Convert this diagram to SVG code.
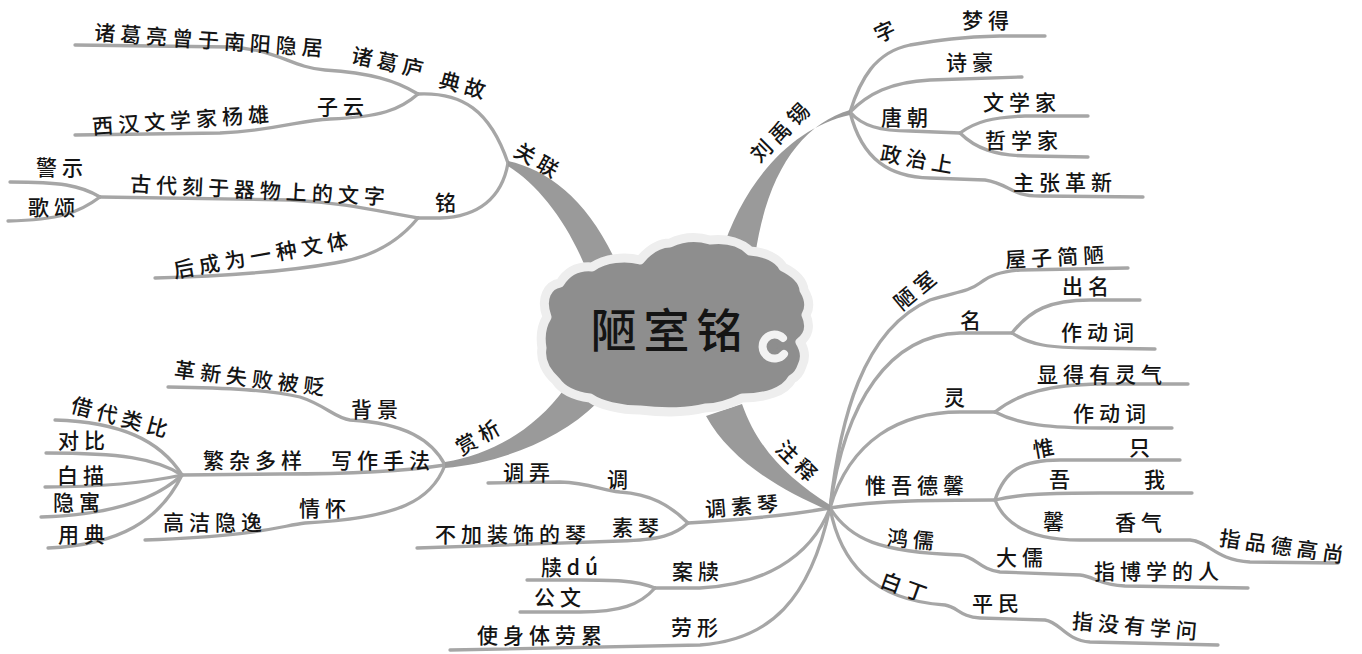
<svg xmlns="http://www.w3.org/2000/svg" width="1362" height="654" viewBox="0 0 1362 654">
<style>
.bg{fill:#ffffff}
.ln{fill:none;stroke:#a6a6a6;stroke-width:3.3;stroke-linecap:round;stroke-linejoin:round}
.th{fill:#9a9a9a;stroke:none}
.t{font-family:"Noto Sans CJK SC","Noto Sans CJK TC",sans-serif;font-size:21px;font-weight:500;letter-spacing:5px;fill:#141414;text-anchor:middle}
.title{font-family:"Noto Sans CJK SC",sans-serif;font-size:46px;font-weight:500;letter-spacing:7px;fill:#141414;text-anchor:middle}
</style>
<rect class="bg" x="0" y="0" width="1362" height="654"/>

<g id="connectors">
  <!-- 关联 -->
  <path class="ln" d="M75 45 L230 47 C280 50 290 67 325 70 C370 73 395 80 418 94"/>
  <path class="ln" d="M418 94 C400 110 380 117 330 119 C300 120 280 130 220 133 L75 135"/>
  <path class="ln" d="M418 94 C462 92 490 110 508 163"/>
  <path class="ln" d="M508 163 C502 198 478 217 440 218 L418 218"/>
  <path class="ln" d="M418 218 C380 212 350 203 290 200 L100 197"/>
  <path class="ln" d="M100 197 C80 185 60 182 10 182"/>
  <path class="ln" d="M100 197 C80 212 60 220 8 221"/>
  <path class="ln" d="M418 218 C400 240 375 257 335 263 C295 270 230 276 155 278"/>
  <!-- 刘禹锡 -->
  <path class="ln" d="M850 112 C860 80 875 52 910 45 C940 40 960 37 1000 36 L1045 36"/>
  <path class="ln" d="M850 112 C868 94 890 82 930 80 L1022 77"/>
  <path class="ln" d="M850 112 C862 126 880 131 910 131 L960 133"/>
  <path class="ln" d="M960 133 C975 122 992 117 1025 116 L1088 116"/>
  <path class="ln" d="M960 133 C975 148 995 156 1030 156 L1088 157"/>
  <path class="ln" d="M850 112 C862 160 890 177 930 178 L985 180 C1010 184 1010 196 1040 196 L1143 197"/>
  <!-- 注释 -->
  <path class="ln" d="M830 508 C840 420 862 330 930 300 C955 292 968 292 980 283 C990 275 1000 272 1020 270 L1128 268"/>
  <path class="ln" d="M830 508 C845 400 890 335 960 333 L1012 333"/>
  <path class="ln" d="M1012 333 C1030 310 1050 300 1090 300 L1140 300"/>
  <path class="ln" d="M1012 333 C1030 345 1050 348 1090 348 L1155 349"/>
  <path class="ln" d="M830 508 C850 440 900 412 960 412 L995 412"/>
  <path class="ln" d="M995 412 C1020 392 1050 385 1100 384 L1188 384"/>
  <path class="ln" d="M995 412 C1020 425 1050 428 1100 428 L1172 428"/>
  <path class="ln" d="M830 508 C880 500 940 500 995 500"/>
  <path class="ln" d="M995 500 C1005 470 1022 460 1060 460 L1180 460"/>
  <path class="ln" d="M995 500 C1020 494 1050 493 1100 493 L1192 493"/>
  <path class="ln" d="M995 500 C1005 525 1030 540 1080 540 L1190 540 C1210 542 1215 560 1250 562 L1338 563"/>
  <path class="ln" d="M830 508 C850 540 880 552 960 555 C975 556 980 570 1000 572 L1080 575 C1095 577 1100 585 1125 586 L1248 588"/>
  <path class="ln" d="M830 508 C840 560 870 600 945 605 C958 607 960 617 980 618 L1045 620 C1060 622 1065 640 1090 642 L1218 645"/>
  <path class="ln" d="M830 508 C790 515 740 520 688 523"/>
  <path class="ln" d="M688 523 C670 505 650 494 620 492 C600 490 590 483 560 482 L488 483"/>
  <path class="ln" d="M688 523 C675 535 660 540 620 541 L417 548"/>
  <path class="ln" d="M830 508 C810 560 760 585 700 588 L655 588"/>
  <path class="ln" d="M655 588 C635 580 610 580 580 580 L527 580"/>
  <path class="ln" d="M655 588 C640 605 620 612 580 612 L520 612"/>
  <path class="ln" d="M830 508 C810 600 770 640 700 645 L450 650"/>
  <!-- 赏析 -->
  <path class="ln" d="M445 465 C432 440 405 423 350 420 C335 418 325 405 300 397 C270 390 230 388 168 387"/>
  <path class="ln" d="M445 465 C400 472 340 474 280 474 L182 475"/>
  <path class="ln" d="M445 465 C432 500 400 518 305 523 C280 526 260 536 145 540"/>
  <path class="ln" d="M182 475 C160 440 120 422 55 420"/>
  <path class="ln" d="M182 475 C155 458 120 453 46 453"/>
  <path class="ln" d="M182 475 C150 482 110 487 45 487"/>
  <path class="ln" d="M182 475 C155 500 110 515 41 517"/>
  <path class="ln" d="M182 475 C160 520 120 545 48 548"/>
  <!-- thick main branches -->
  <path class="th" d="M508 161 C548 170 588 200 616 262 L588 274 C570 226 540 186 508 166 Z"/>
  <path class="th" d="M850 110 C800 125 765 175 754 264 L718 264 C740 185 790 128 850 115 Z"/>
  <path class="th" d="M830 505 C790 480 758 450 742 404 L706 416 C730 460 780 490 830 511 Z"/>
  <path class="th" d="M445 462 C490 455 535 430 565 388 L597 403 C560 440 500 463 445 468 Z"/>
</g>

<g id="center">
  <path d="M547 317 C540 298 548 285 560 283 C568 270 580 266 592 267 C605 258 625 256 640 260 C650 248 660 243 670 243 C685 236 700 237 710 240 C728 238 742 243 750 251 C765 252 778 258 783 267 C795 273 803 280 804 290 C810 300 810 308 806 315 C811 326 808 336 800 342 C805 350 806 358 802 366 C800 372 796 377 792 379 C785 392 765 398 742 398 C728 405 718 408 705 408 C690 412 665 413 640 410 C620 410 600 405 590 398 C575 396 562 390 556 381 C546 372 540 360 542 348 C540 336 542 325 547 317 Z" fill="#8e8e8e" stroke="#eeeeee" stroke-width="9" stroke-linejoin="round"/>
  <path d="M783 338 A 12 12 0 1 0 784 354" fill="none" stroke="#f2f2f2" stroke-width="8" stroke-linecap="round"/>
  <circle cx="773" cy="346" r="5" fill="#8e8e8e"/>
  <text class="title" x="670" y="347">陋室铭</text>
</g>

<g id="n-guanlian"><text class="t" x="539" y="168" transform="rotate(30 537 160)">关联</text></g>
<g id="n-diangu"><text class="t" x="465" y="93" transform="rotate(15 463 85)">典故</text></g>
<g id="n-zhugelu"><text class="t" x="390" y="70" transform="rotate(12 388 62)">诸葛庐</text></g>
<g id="n-zhugeliang"><text class="t" x="211" y="48" transform="rotate(4 209 40)">诸葛亮曾于南阳隐居</text></g>
<g id="n-ziyun"><text class="t" x="343" y="114">子云</text></g>
<g id="n-yangxiong"><text class="t" x="183" y="128" transform="rotate(-4 181 120)">西汉文学家杨雄</text></g>
<g id="n-ming"><text class="t" x="448" y="210">铭</text></g>
<g id="n-gudai"><text class="t" x="260" y="198" transform="rotate(3 258 190)">古代刻于器物上的文字</text></g>
<g id="n-jingshi"><text class="t" x="62" y="175">警示</text></g>
<g id="n-gesong"><text class="t" x="54" y="215">歌颂</text></g>
<g id="n-houcheng"><text class="t" x="263" y="263" transform="rotate(-10 261 255)">后成为一种文体</text></g>

<g id="n-liuyuxi"><text class="t" x="782" y="140" transform="rotate(-45 780 132)">刘禹锡</text></g>
<g id="n-zi"><text class="t" x="887" y="39" transform="rotate(-25 885 31)">字</text></g>
<g id="n-mengde"><text class="t" x="988" y="28">梦得</text></g>
<g id="n-shihao"><text class="t" x="972" y="70">诗豪</text></g>
<g id="n-tangchao"><text class="t" x="907" y="125">唐朝</text></g>
<g id="n-wenxuejia"><text class="t" x="1022" y="110">文学家</text></g>
<g id="n-zhexuejia"><text class="t" x="1024" y="148">哲学家</text></g>
<g id="n-zhengzhi"><text class="t" x="919" y="167" transform="rotate(10 917 159)">政治上</text></g>
<g id="n-zhuzhang"><text class="t" x="1065" y="190">主张革新</text></g>

<g id="n-zhushi"><text class="t" x="799" y="469" transform="rotate(45 797 461)">注释</text></g>
<g id="n-loushi"><text class="t" x="917" y="298" transform="rotate(-40 915 290)">陋室</text></g>
<g id="n-wuzi"><text class="t" x="1057" y="265" transform="rotate(-3 1055 257)">屋子简陋</text></g>
<g id="n-ming2"><text class="t" x="973" y="328">名</text></g>
<g id="n-chuming"><text class="t" x="1088" y="294">出名</text></g>
<g id="n-zuodongci1"><text class="t" x="1100" y="340">作动词</text></g>
<g id="n-ling"><text class="t" x="957" y="405">灵</text></g>
<g id="n-xiande"><text class="t" x="1102" y="382">显得有灵气</text></g>
<g id="n-zuodongci2"><text class="t" x="1112" y="421">作动词</text></g>
<g id="n-weiwu"><text class="t" x="917" y="493">惟吾德馨</text></g>
<g id="n-wei"><text class="t" x="1046" y="456" transform="rotate(-10 1044 448)">惟</text></g>
<g id="n-zhi"><text class="t" x="1142" y="455">只</text></g>
<g id="n-wu"><text class="t" x="1062" y="487">吾</text></g>
<g id="n-wo"><text class="t" x="1157" y="487">我</text></g>
<g id="n-xin"><text class="t" x="1056" y="529">馨</text></g>
<g id="n-xiangqi"><text class="t" x="1141" y="530">香气</text></g>
<g id="n-pinde"><text class="t" x="1284" y="554" transform="rotate(8 1282 546)">指品德高尚</text></g>
<g id="n-hongru"><text class="t" x="913" y="547" transform="rotate(5 911 539)">鸿儒</text></g>
<g id="n-daru"><text class="t" x="1022" y="565">大儒</text></g>
<g id="n-boxue"><text class="t" x="1159" y="579">指博学的人</text></g>
<g id="n-baiding"><text class="t" x="906" y="595" transform="rotate(20 904 587)">白丁</text></g>
<g id="n-pingmin"><text class="t" x="998" y="611">平民</text></g>
<g id="n-meiyou"><text class="t" x="1137" y="634" transform="rotate(5 1135 626)">指没有学问</text></g>

<g id="n-tiaosuqin"><text class="t" x="744" y="514" transform="rotate(-5 742 506)">调素琴</text></g>
<g id="n-tiaonong"><text class="t" x="529" y="480">调弄</text></g>
<g id="n-tiao"><text class="t" x="620" y="487">调</text></g>
<g id="n-bujia"><text class="t" x="513" y="542">不加装饰的琴</text></g>
<g id="n-suqin"><text class="t" x="638" y="535">素琴</text></g>
<g id="n-andu"><text class="t" x="698" y="579">案牍</text></g>
<g id="n-du"><text class="t" x="572" y="575">牍dú</text></g>
<g id="n-gongwen"><text class="t" x="560" y="605">公文</text></g>
<g id="n-laoxing"><text class="t" x="697" y="635">劳形</text></g>
<g id="n-laolei"><text class="t" x="542" y="643">使身体劳累</text></g>

<g id="n-shangxi"><text class="t" x="480" y="445" transform="rotate(-30 478 437)">赏析</text></g>
<g id="n-beijing"><text class="t" x="377" y="417">背景</text></g>
<g id="n-gexin"><text class="t" x="252" y="386" transform="rotate(7 250 378)">革新失败被贬</text></g>
<g id="n-xiezuo"><text class="t" x="383" y="468">写作手法</text></g>
<g id="n-fanza"><text class="t" x="255" y="468">繁杂多样</text></g>
<g id="n-jiedai"><text class="t" x="122" y="425" transform="rotate(15 120 417)">借代类比</text></g>
<g id="n-duibi"><text class="t" x="84" y="448">对比</text></g>
<g id="n-baimiao"><text class="t" x="83" y="483">白描</text></g>
<g id="n-yinyu"><text class="t" x="79" y="510">隐寓</text></g>
<g id="n-yongdian"><text class="t" x="84" y="542">用典</text></g>
<g id="n-qinghuai"><text class="t" x="325" y="516">情怀</text></g>
<g id="n-gaojie"><text class="t" x="215" y="530">高洁隐逸</text></g>
</svg>
